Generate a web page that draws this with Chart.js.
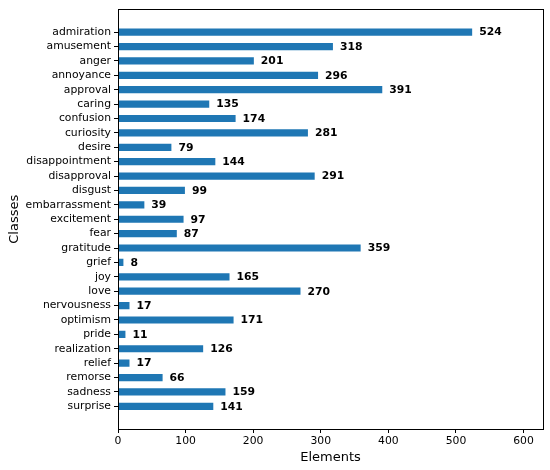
<!DOCTYPE html>
<html>
<head>
<meta charset="utf-8">
<script src="https://cdn.jsdelivr.net/npm/chart.js@4"></script>
<style>
  html, body { margin: 0; padding: 0; background: #fff; }
  #wrap { width: 550px; height: 470px; }
</style>
</head>
<body>
<div id="wrap"><canvas id="classChart"></canvas></div>
<script>
// categories and counts
const classes = ['admiration', 'amusement', 'anger', 'annoyance', 'approval', 'caring', 'confusion',
  'curiosity', 'desire', 'disappointment', 'disapproval', 'disgust', 'embarrassment', 'excitement',
  'fear', 'gratitude', 'grief', 'joy', 'love', 'nervousness', 'optimism', 'pride', 'realization',
  'relief', 'remorse', 'sadness', 'surprise'];
const counts = [524, 318, 201, 296, 391, 135, 174, 281, 79, 144, 291, 99, 39, 97, 87, 359, 8, 165,
  270, 17, 171, 11, 126, 17, 66, 159, 141];
const xTicks = [0, 100, 200, 300, 400, 500, 600];

const font = 'DejaVu Sans';

// value labels at the end of each bar
const valueLabels = {
  id: 'valueLabels',
  afterDatasetsDraw(chart) {
    const ctx = chart.ctx;
    const meta = chart.getDatasetMeta(0);
    ctx.save();
    ctx.font = 'bold 10.8px "' + font + '"';
    ctx.fillStyle = '#000';
    ctx.textAlign = 'left';
    ctx.textBaseline = 'middle';
    meta.data.forEach((bar, i) => {
      ctx.fillText(String(counts[i]), bar.x + 7, bar.y + 0.5);
    });
    ctx.restore();
  }
};

// box round the plot area, like matplotlib spines
const frame = {
  id: 'frame',
  afterDraw(chart) {
    const a = chart.chartArea;
    const ctx = chart.ctx;
    ctx.save();
    ctx.strokeStyle = '#000';
    ctx.lineWidth = 1;
    ctx.strokeRect(Math.round(a.left) + 0.5, Math.round(a.top) + 0.5,
      Math.round(a.right - a.left), Math.round(a.bottom - a.top));
    ctx.restore();
  }
};

const ctx = document.getElementById('classChart').getContext('2d');
new Chart(ctx, {
  type: 'bar',
  data: {
    datasets: [{
      data: counts.map((c, i) => ({ x: c, y: i })),
      backgroundColor: '#1f77b4',
      borderWidth: 0,
      barPercentage: 0.5,
      categoryPercentage: 1.0
    }]
  },
  options: {
    indexAxis: 'y',
    responsive: true,
    maintainAspectRatio: false,
    animation: false,
    layout: { padding: { left: 0, right: 7, top: 8, bottom: 0 } },
    plugins: {
      legend: { display: false },
      tooltip: { enabled: false }
    },
    scales: {
      x: {
        type: 'linear',
        min: 0,
        max: 628.8,
        afterBuildTicks(scale) {
          scale.ticks = xTicks.map(v => ({ value: v }));
        },
        afterFit(scale) { scale.height = 41; },
        ticks: {
          includeBounds: false,
          color: '#000',
          padding: 2,
          font: { family: font, size: 10.8 }
        },
        grid: {
          display: true,
          drawOnChartArea: false,
          drawTicks: true,
          tickLength: 4,
          tickColor: '#000'
        },
        border: { display: true, color: '#000' },
        title: {
          display: true,
          text: 'Elements',
          color: '#000',
          font: { family: font, size: 13 },
          padding: { top: 0, bottom: 4.5 }
        }
      },
      y: {
        type: 'linear',
        reverse: true,
        offset: false,
        // matplotlib leaves 5% margin round the bars
        min: -1.575,
        max: classes.length - 1 + 1.575,
        afterBuildTicks(scale) {
          scale.ticks = classes.map((c, i) => ({ value: i }));
        },
        afterFit(scale) { scale.width = 118; },
        ticks: {
          autoSkip: false,
          color: '#000',
          padding: 3,
          font: { family: font, size: 10.8 },
          callback: (v) => classes[v]
        },
        grid: {
          display: true,
          offset: false,
          drawOnChartArea: false,
          drawTicks: true,
          tickLength: 4,
          tickColor: '#000'
        },
        border: { display: true, color: '#000' },
        title: {
          display: true,
          text: 'Classes',
          color: '#000',
          font: { family: font, size: 13 },
          padding: { top: 7, bottom: 0 }
        }
      }
    }
  },
  plugins: [valueLabels, frame]
});
</script>
</body>
</html>
